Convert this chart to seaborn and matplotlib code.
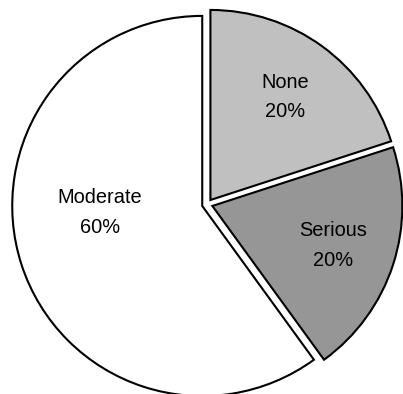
import matplotlib
matplotlib.use("Agg")
import matplotlib.pyplot as plt
import numpy as np
import seaborn as sns

# Injury severity shares
categories = ["None", "Serious", "Moderate"]
shares = [20, 20, 60]
wedge_colors = ["#c0c0c0", "#969696", "#ffffff"]

sns.set_theme(style="white")
plt.rcParams["font.family"] = ["Liberation Sans", "DejaVu Sans"]

fig = plt.figure(figsize=(4.03, 3.94), dpi=100)
ax = fig.add_axes([0, 0, 1, 1])

label_iter = iter(f"{c}\n{v}%" for c, v in zip(categories, shares))

wedges, texts, autotexts = ax.pie(
    shares,
    colors=wedge_colors,
    startangle=90,
    counterclock=False,
    explode=[0.028] * len(shares),
    radius=1.0,
    autopct=lambda p: next(label_iter),
    pctdistance=0.67,
    wedgeprops=dict(edgecolor="black", linewidth=1.5, joinstyle="miter"),
    textprops=dict(fontsize=14.4, color="black", linespacing=1.7),
)

# The large wedge keeps its label closer to the middle, just below horizontal
big = wedges[2]
cx, cy = big.center
ang = np.deg2rad(183.7)
autotexts[2].set_position((cx + 0.54 * np.cos(ang), cy + 0.54 * np.sin(ang)))

ax.set_aspect("auto")
ax.set_xlim(-1.091, 1.030)
ax.set_ylim(-0.998, 1.075)
ax.axis("off")

fig.savefig("out.png", dpi=100, facecolor="white")
